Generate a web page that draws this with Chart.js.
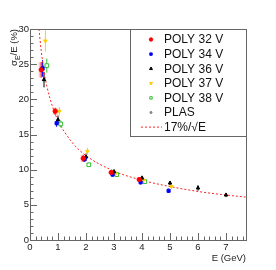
<!DOCTYPE html>
<html>
<head>
<meta charset="utf-8">
<script src="https://cdn.jsdelivr.net/npm/chart.js@4.4.1/dist/chart.umd.min.js"></script>
<style>
  html, body { margin: 0; padding: 0; background: #fff; }
  #wrap { width: 276px; height: 270px; }
</style>
</head>
<body>
<div id="wrap"><canvas id="resChart" width="276" height="270"></canvas></div>
<script>
// energies (GeV), resolution (%) and errors
var poly32E = [0.4, 0.9, 1.9, 2.9, 3.9];
var poly32V = [24.2, 18.3, 11.6, 9.6, 8.6];
var poly32Err = [1.1, 0.5, 0.5, 0.3, 0.3];

var poly34E = [0.45, 0.95, 1.95, 2.95, 3.95, 4.95];
var poly34V = [24.4, 16.6, 11.5, 9.3, 8.2, 7.0];
var poly34Err = [1.2, 0.5, 0.4, 0.3, 0.3, 0.3];

var poly36E = [0.5, 1.0, 2.0, 3.0, 4.0, 5.0, 6.0, 7.0];
var poly36V = [22.8, 17.1, 11.8, 9.7, 8.8, 8.1, 7.4, 6.4];
var poly36Err = [1.1, 0.6, 0.5, 0.3, 0.3, 0.3, 0.4, 0.3];

var poly37E = [0.55, 1.05, 2.05, 3.05, 4.05, 5.05];
var poly37V = [28.3, 18.3, 12.6, 9.4, 8.5, 7.6];
var poly37Err = [1.5, 0.6, 0.5, 0.3, 0.3, 0.3];

var poly38E = [0.6, 1.1, 2.1, 3.1, 4.1];
var poly38V = [24.8, 16.5, 10.7, 9.3, 8.3];
var poly38Err = [1.0, 0.5, 0.3, 0.3, 0.3];

var plasE = [3.0, 4.0];
var plasV = [9.8, 8.9];
var plasErr = [0.3, 0.3];

// fit curve 17%/sqrt(E)
var fitE = [0.32, 0.4, 0.5, 0.6, 0.8, 1.0, 1.5, 2.0, 3.0, 4.0, 5.0, 6.0, 7.0, 7.7];
var fitV = [30.0, 26.9, 24.0, 21.9, 19.0, 17.0, 13.9, 12.0, 9.8, 8.5, 7.6, 6.9, 6.4, 6.1];

var xTicks = [0, 1, 2, 3, 4, 5, 6, 7];
var yTicks = [0, 5, 10, 15, 20, 25, 30];

function pts(xs, ys, errs) {
    return xs.map(function(x, i){ return {x: x, y: ys[i], err: errs ? errs[i] : 0}; });
}

function series(label, xs, ys, errs, color, style, size, extra) {
    var ds = {
        type: 'scatter',
        label: label,
        data: pts(xs, ys, errs),
        pointStyle: style,
        pointRadius: size,
        pointBackgroundColor: color,
        pointBorderColor: color,
        pointBorderWidth: 1,
        errColor: color,
        order: 1
    };
    for (var k in extra) ds[k] = extra[k];
    return ds;
}

var datasets = [
    series('POLY 32 V', poly32E, poly32V, poly32Err, '#ff0000', 'circle', 2.1, {errBox: 'rgba(255,80,80,0.35)'}),
    series('POLY 34 V', poly34E, poly34V, poly34Err, '#0000ff', 'rect', 2.2, {}),
    series('POLY 36 V', poly36E, poly36V, poly36Err, '#000000', 'triangle', 2.0, {}),
    series('POLY 37 V', poly37E, poly37V, poly37Err, '#ffcc00', 'triangle', 2.0, {pointRotation: 180}),
    series('POLY 38 V', poly38E, poly38V, poly38Err, '#33bb33', 'rect', 2.6, {pointBackgroundColor: '#ffffff'}),
    series('PLAS', plasE, plasV, plasErr, '#888888', 'circle', 1.1, {}),
    {
        type: 'line',
        label: '17%/\u221AE',
        data: pts(fitE, fitV),
        borderColor: '#ff2020',
        borderWidth: 1,
        borderDash: [2, 2],
        pointRadius: 0,
        fill: false,
        cubicInterpolationMode: 'monotone',
        order: 2
    }
];

var frameColor = '#666666';
var fontFam = ' "Liberation Sans", Arial, sans-serif';

var rootStyle = {
    id: 'rootStyle',
    beforeDatasetsDraw: function(chart) {
        var ctx = chart.ctx, xs = chart.scales.x, ys = chart.scales.y;
        ctx.save();
        chart.data.datasets.forEach(function(ds) {
            if (ds.type !== 'scatter') return;
            ds.data.forEach(function(p) {
                var px = xs.getPixelForValue(p.x);
                var top = ys.getPixelForValue(p.y + p.err);
                var bot = ys.getPixelForValue(p.y - p.err);
                if (ds.errBox) {
                    ctx.fillStyle = ds.errBox;
                    ctx.fillRect(px - 2.5, top, 5, bot - top);
                }
                ctx.strokeStyle = ds.errColor;
                ctx.lineWidth = 1;
                ctx.beginPath();
                ctx.moveTo(px, top);
                ctx.lineTo(px, bot);
                ctx.stroke();
            });
        });
        ctx.restore();
    },
    afterDraw: function(chart) {
        var ctx = chart.ctx, xs = chart.scales.x, ys = chart.scales.y;
        var a = chart.chartArea;
        ctx.save();
        // frame
        ctx.strokeStyle = frameColor;
        ctx.lineWidth = 1;
        ctx.strokeRect(a.left + 0.5, a.top + 0.5, a.right - a.left, a.bottom - a.top);

        // y ticks (inside), minor every 1
        ctx.beginPath();
        for (var v = 0; v <= 30; v++) {
            var py = Math.round(ys.getPixelForValue(v)) + 0.5;
            var len = (v % 5 === 0) ? 7 : 3.5;
            ctx.moveTo(a.left, py);
            ctx.lineTo(a.left + len, py);
        }
        // x ticks (inside), minor every 0.2
        for (var i = 0; i <= 38; i++) {
            var e = i * 0.2;
            var px = Math.round(xs.getPixelForValue(e)) + 0.5;
            var l2 = (i % 5 === 0) ? 7 : 3.5;
            ctx.moveTo(px, a.bottom);
            ctx.lineTo(px, a.bottom - l2);
        }
        ctx.stroke();

        // tick labels
        ctx.fillStyle = '#222';
        ctx.font = '9.5px' + fontFam;
        ctx.textAlign = 'right';
        ctx.textBaseline = 'middle';
        yTicks.forEach(function(t) {
            ctx.fillText(String(t), a.left - 1, ys.getPixelForValue(t));
        });
        ctx.textAlign = 'center';
        ctx.textBaseline = 'top';
        xTicks.forEach(function(t) {
            ctx.fillText(String(t), xs.getPixelForValue(t), a.bottom + 3);
        });

        // axis titles
        ctx.textAlign = 'right';
        ctx.fillText('E (GeV)', a.right, a.bottom + 14);
        ctx.save();
        ctx.translate(17, a.top);
        ctx.rotate(-Math.PI / 2);
        ctx.textAlign = 'left';
        ctx.textBaseline = 'alphabetic';
        var title = [['\u03C3', 0], ['E', 1], ['/E (%)', 0]];
        var w = 0;
        title.forEach(function(t) {
            ctx.font = (t[1] ? '7px' : '9.5px') + fontFam;
            w += ctx.measureText(t[0]).width;
        });
        var x0 = -w;
        title.forEach(function(t) {
            ctx.font = (t[1] ? '7px' : '9.5px') + fontFam;
            ctx.fillText(t[0], x0, t[1] ? 2.5 : 0);
            x0 += ctx.measureText(t[0]).width;
        });
        ctx.restore();

        // legend box
        var lx = 130, ly = a.top, lw = a.right - 130, lh = 107;
        ctx.fillStyle = '#fff';
        ctx.fillRect(lx + 0.5, ly + 0.5, lw, lh);
        ctx.strokeStyle = frameColor;
        ctx.strokeRect(lx + 0.5, ly + 0.5, lw, lh);
        ctx.font = '12px' + fontFam;
        ctx.textAlign = 'left';
        ctx.textBaseline = 'middle';
        chart.data.datasets.forEach(function(ds, k) {
            var ry = ly + 10.5 + k * 14.6;
            if (ds.type === 'line') {
                ctx.save();
                ctx.strokeStyle = ds.borderColor;
                ctx.setLineDash([2, 2]);
                ctx.beginPath();
                ctx.moveTo(141, ry);
                ctx.lineTo(162, ry);
                ctx.stroke();
                ctx.restore();
            } else {
                ctx.fillStyle = ds.pointBackgroundColor;
                ctx.strokeStyle = ds.pointBorderColor;
                ctx.lineWidth = 1;
                Chart.helpers.drawPoint(ctx, {
                    pointStyle: ds.pointStyle,
                    rotation: ds.pointRotation || 0,
                    radius: Math.min(ds.pointRadius, 1.7),
                    borderWidth: 1
                }, 151, ry);
            }
            ctx.fillStyle = '#111';
            ctx.fillText(ds.label, 164, ry + 0.5);
        });
        ctx.restore();
    }
};

var chart = new Chart(document.getElementById('resChart').getContext('2d'), {
    data: { datasets: datasets },
    options: {
        responsive: false,
        animation: false,
        layout: { padding: { left: 30, top: 29, right: 30, bottom: 30 } },
        plugins: { legend: { display: false }, tooltip: { enabled: false } },
        scales: {
            x: { type: 'linear', min: 0, max: 216 / 28, display: false },
            y: { type: 'linear', min: 0, max: 30, display: false }
        }
    },
    plugins: [rootStyle]
});
</script>
</body>
</html>
